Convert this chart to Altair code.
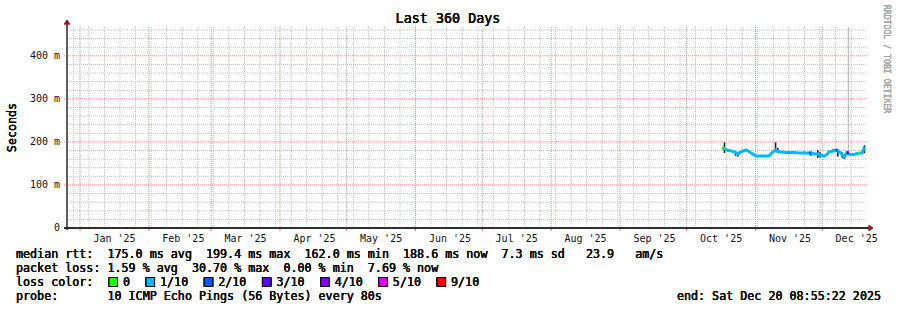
import altair as alt
import pandas as pd

# ---------------- data ----------------
median_dates = pd.date_range("2025-10-17", "2025-12-20", freq="D").strftime("%Y-%m-%d").tolist()
median_ms = [
    186, 184, 181, 180, 179, 178, 175, 172, 176, 178, 180, 181, 178, 174, 171,          # Oct 17-31
    168, 167, 167, 167, 167, 167, 167, 173, 178, 181, 178, 177, 176, 176, 175,          # Nov 1-15
    176, 175, 176, 175, 175, 174, 174, 175, 174, 174, 173, 173, 172, 172, 170,          # Nov 16-30
    168, 168, 170, 177, 178, 179, 181, 178, 176, 170, 166, 175, 172, 171, 171,          # Dec 1-15
    172, 173, 174, 174, 188,                                                              # Dec 16-20
]
loss_override = {"2025-10-17": "0", "2025-11-25": "2/10", "2025-12-07": "2/10",
                 "2025-12-12": "3/10", "2025-12-17": "0"}

smoke_dates = ["2025-10-18", "2025-10-23", "2025-10-24", "2025-11-10", "2025-11-11",
               "2025-11-26", "2025-11-29", "2025-11-30", "2025-12-06", "2025-12-08",
               "2025-12-10", "2025-12-11", "2025-12-20"]
smoke_lo = [174, 168, 166, 176, 174, 168, 163, 164, 176, 166, 163, 160, 174]
smoke_hi = [199, 178, 176, 199, 186, 178, 181, 176, 184, 182, 176, 172, 192]
spike_date = ["2025-12-12T18:00:00Z"]
spike_lo = [172]
spike_hi = [600]

loss_labels = ["0", "1/10", "2/10", "3/10", "4/10", "5/10", "9/10"]
loss_colors = ["#26ff00", "#00b8ff", "#0059ff", "#5e00ff", "#7e00ff", "#dd00ff", "#ff0000"]

month_labels = ["Jan '25", "Feb '25", "Mar '25", "Apr '25", "May '25", "Jun '25",
                "Jul '25", "Aug '25", "Sep '25", "Oct '25", "Nov '25", "Dec '25"]
y_major = [0, 100, 200, 300, 400]
y_labels = ["0\u00a0\u00a0", "100\u00a0m", "200\u00a0m", "300\u00a0m", "400\u00a0m"]

legend_lines = [
    "median rtt:  175.0 ms avg  199.4 ms max  162.0 ms min  188.6 ms now  7.3 ms sd   23.9   am/s",
    "packet loss: 1.59 % avg  30.70 % max  0.00 % min  7.69 % now",
    "loss color:",
    "probe:       10 ICMP Echo Pings (56 Bytes) every 80s",
]
end_text = "end: Sat Dec 20 08:55:22 2025"
title_text = "Last 360 Days"
y_title = "Seconds"
watermark = "RRDTOOL / TOBI OETIKER"

# ---------------- frames ----------------
color_of = dict(zip(loss_labels, loss_colors))
med = pd.DataFrame({"date": median_dates, "ms": median_ms})
med["loss"] = [loss_override.get(d, "1/10") for d in median_dates]
med["next"] = (pd.to_datetime(med["date"]) + pd.Timedelta(days=1)).dt.strftime("%Y-%m-%d")
med_col = med[med["loss"] != "1/10"].copy()
med_col["color"] = [color_of[l] for l in med_col["loss"]]

smoke = pd.DataFrame({"date": smoke_dates, "lo": smoke_lo, "hi": smoke_hi})
spike = pd.DataFrame({"date": spike_date, "lo": spike_lo, "hi": spike_hi})

month_starts = pd.date_range("2025-01-01", "2025-12-01", freq="MS")
months = pd.DataFrame({"date": month_starts.strftime("%Y-%m-%d")})
mids = pd.DataFrame({"date": (month_starts + pd.Timedelta(hours=372)).strftime("%Y-%m-%dT%H:%M:%SZ"),
                     "label": month_labels})
weeks = pd.DataFrame({"date": pd.date_range("2024-12-29", "2025-12-20", freq="7D").strftime("%Y-%m-%d")})
ymin = pd.DataFrame({"v": [v for v in range(20, 467, 20) if v % 100]})
ymaj = pd.DataFrame({"v": [100, 200, 300, 400]})
ylab = pd.DataFrame({"v": y_major, "label": y_labels})

W, H = 800, 201
FONT = "DejaVu Sans Mono"
TXT = "#111111"
xs = alt.Scale(type="utc",
               domain=[alt.DateTime(year=2024, month=12, date=26, hours=3, minutes=30, utc=True),
                       alt.DateTime(year=2025, month=12, date=21, hours=3, minutes=30, utc=True)])
ys = alt.Scale(domain=[0, 467], nice=False, zero=False)

def X(f="date"):
    return alt.X(f + ":T", scale=xs, axis=None)

def Y(f):
    return alt.Y(f + ":Q", scale=ys, axis=None)

layers = []
# grid
layers.append(alt.Chart(weeks).mark_rule(color="#c0c0c0", strokeDash=[1, 1], strokeWidth=1)
              .encode(x=X(), y=alt.value(0), y2=alt.value(H)))
layers.append(alt.Chart(ymin).mark_rule(color="#c0c0c0", strokeDash=[1, 1], strokeWidth=1)
              .encode(y=Y("v"), x=alt.value(0), x2=alt.value(W)))
layers.append(alt.Chart(months).mark_rule(color="#ff8080", strokeDash=[1, 1], strokeWidth=1)
              .encode(x=X(), y=alt.value(0), y2=alt.value(H)))
layers.append(alt.Chart(months).mark_rule(color="#ff6060", strokeWidth=1)
              .encode(x=X(), y=alt.value(H), y2=alt.value(H + 3)))
layers.append(alt.Chart(ymaj).mark_rule(color="#ff8080", strokeDash=[1, 1], strokeWidth=1)
              .encode(y=Y("v"), x=alt.value(-3), x2=alt.value(W)))
# smoke
layers.append(alt.Chart(spike).mark_rule(color="#bdbdbd", strokeWidth=1.2, clip=True)
              .encode(x=X(), y=Y("lo"), y2=alt.Y2("hi")))
layers.append(alt.Chart(smoke).mark_rule(color="#1e1e1e", strokeWidth=1.6)
              .encode(x=X(), y=Y("lo"), y2=alt.Y2("hi")))
# median
layers.append(alt.Chart(med).mark_line(color=color_of["1/10"], strokeWidth=3, interpolate="linear")
              .encode(x=X(), y=Y("ms")))
layers.append(alt.Chart(med_col).mark_rule(strokeWidth=3)
              .encode(x=X(), x2=alt.X2("next"), y=Y("ms"),
                      color=alt.Color("color:N", scale=None, legend=None)))
# axes
layers.append(alt.Chart(ymaj).mark_rule(color="#555555", strokeWidth=1)
              .encode(x=alt.value(0), y=alt.value(-3), y2=alt.value(H + 2)))
layers.append(alt.Chart(ymaj).mark_rule(color="#222222", strokeWidth=1)
              .encode(x=alt.value(-3), x2=alt.value(W + 2), y=alt.value(H)))
layers.append(alt.Chart(ymaj).mark_point(shape="M-1,0.75L0,-0.75L1,0.75Z", size=36, filled=True,
                                         color="#9b1a1a", opacity=1)
              .encode(x=alt.value(0), y=alt.value(-5)))
layers.append(alt.Chart(ymaj).mark_point(shape="M-0.75,-1L0.75,0L-0.75,1Z", size=36, filled=True,
                                         color="#9b1a1a", opacity=1)
              .encode(x=alt.value(W + 4), y=alt.value(H)))
# axis labels
layers.append(alt.Chart(mids).mark_text(font=FONT, fontSize=10, color=TXT, baseline="middle",
                                        fontWeight="normal")
              .encode(x=X(), y=alt.value(H + 10.5), text="label:N"))
layers.append(alt.Chart(ylab).mark_text(font=FONT, fontSize=10, color=TXT, align="right",
                                        baseline="middle", fontWeight="normal")
              .encode(y=Y("v"), x=alt.value(-7), text="label:N"))

# titles / watermark
def txt(s, x, y, **kw):
    base = dict(font=FONT, color=TXT, baseline="middle", fontWeight="normal")
    base.update(kw)
    return alt.Chart(ymaj).mark_text(text=s, **base).encode(x=alt.value(x), y=alt.value(y))

layers.append(txt(title_text, 381, -8, fontSize=13.4, align="center"))
layers.append(txt(y_title, -55, H / 2, fontSize=11.7, align="center", angle=270))
layers.append(txt(watermark, 819, 32, fontSize=8.2, align="center", angle=90, color="#aaaaaa"))

# legend lines
CW = 7.05
LX = -51
line_y = [227, 241, 255, 269]
for s, yy in zip(legend_lines, line_y):
    layers.append(txt(s.replace(" ", "\u00a0"), LX, yy, fontSize=11.7, align="left"))
layers.append(txt(end_text.replace(" ", "\u00a0"), 814, line_y[3], fontSize=11.7, align="right"))

# loss colour boxes
px = 42.0
for lab, colr in zip(loss_labels, loss_colors):
    layers.append(alt.Chart(ymaj).mark_rect(fill=colr, stroke="#000", strokeWidth=1)
                  .encode(x=alt.value(px), x2=alt.value(px + 8.5),
                          y=alt.value(line_y[2] - 4.5), y2=alt.value(line_y[2] + 4.5)))
    layers.append(txt(lab, px + 14, line_y[2], fontSize=11.7, align="left"))
    px = px + 14 + len(lab) * CW + 16

chart = (alt.layer(*layers)
         .properties(width=W, height=H,
                     autosize=alt.AutoSizeParams(type="none"),
                     padding={"left": 67, "top": 27, "right": 30, "bottom": 82},
                     background="white")
         .configure_view(stroke=None))

chart.save("out.html", embed_options={"renderer": "svg", "actions": False})
